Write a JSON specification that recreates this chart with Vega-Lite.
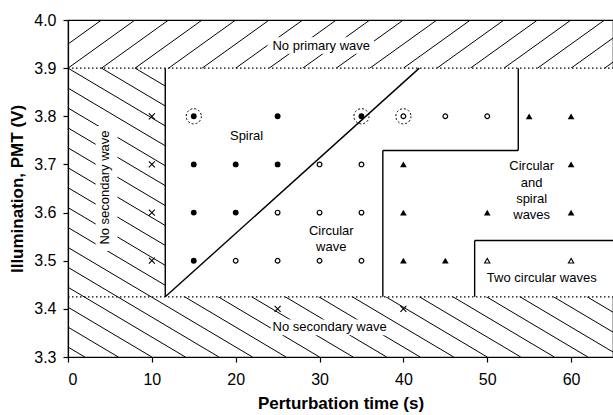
{
  "$schema": "https://vega.github.io/schema/vega-lite/v6.json",
  "width": 545,
  "height": 337,
  "autosize": {"type": "none"},
  "padding": {"left": 68, "top": 20, "right": 0, "bottom": 58},
  "config": {
    "font": "Liberation Sans",
    "view": {"stroke": "#000", "strokeWidth": 1.2},
    "axis": {"domainColor": "#000", "domainWidth": 1.2, "tickColor": "#000", "tickWidth": 1.2, "labelColor": "#000", "titleColor": "#000", "grid": false}
  },
  "datasets": {
    "diag": [
      {"x": 2, "y": 3.3, "x2": -56, "y2": 3.9},
      {"x": 6, "y": 3.3, "x2": -52, "y2": 3.9},
      {"x": 10, "y": 3.3, "x2": -48, "y2": 3.9},
      {"x": 14, "y": 3.3, "x2": -44, "y2": 3.9},
      {"x": 18, "y": 3.3, "x2": -40, "y2": 3.9},
      {"x": 22, "y": 3.3, "x2": -36, "y2": 3.9},
      {"x": 26, "y": 3.3, "x2": -32, "y2": 3.9},
      {"x": 30, "y": 3.3, "x2": -28, "y2": 3.9},
      {"x": 34, "y": 3.3, "x2": -24, "y2": 3.9},
      {"x": 38, "y": 3.3, "x2": -20, "y2": 3.9},
      {"x": 42, "y": 3.3, "x2": -16, "y2": 3.9},
      {"x": 46, "y": 3.3, "x2": -12, "y2": 3.9},
      {"x": 50, "y": 3.3, "x2": -8, "y2": 3.9},
      {"x": 54, "y": 3.3, "x2": -4, "y2": 3.9},
      {"x": 58, "y": 3.3, "x2": 0, "y2": 3.9},
      {"x": 62, "y": 3.3, "x2": 4, "y2": 3.9},
      {"x": 66, "y": 3.3, "x2": 8, "y2": 3.9},
      {"x": 70, "y": 3.3, "x2": 12, "y2": 3.9},
      {"x": 74, "y": 3.3, "x2": 16, "y2": 3.9},
      {"x": 78, "y": 3.3, "x2": 20, "y2": 3.9}
    ],
    "top": [
      {"x": -4, "y": 3.9, "x2": 4, "y2": 4.0},
      {"x": 0, "y": 3.9, "x2": 8, "y2": 4.0},
      {"x": 4, "y": 3.9, "x2": 12, "y2": 4.0},
      {"x": 8, "y": 3.9, "x2": 16, "y2": 4.0},
      {"x": 12, "y": 3.9, "x2": 20, "y2": 4.0},
      {"x": 16, "y": 3.9, "x2": 24, "y2": 4.0},
      {"x": 20, "y": 3.9, "x2": 28, "y2": 4.0},
      {"x": 24, "y": 3.9, "x2": 32, "y2": 4.0},
      {"x": 28, "y": 3.9, "x2": 36, "y2": 4.0},
      {"x": 32, "y": 3.9, "x2": 40, "y2": 4.0},
      {"x": 36, "y": 3.9, "x2": 44, "y2": 4.0},
      {"x": 40, "y": 3.9, "x2": 48, "y2": 4.0},
      {"x": 44, "y": 3.9, "x2": 52, "y2": 4.0},
      {"x": 48, "y": 3.9, "x2": 56, "y2": 4.0},
      {"x": 52, "y": 3.9, "x2": 60, "y2": 4.0},
      {"x": 56, "y": 3.9, "x2": 64, "y2": 4.0},
      {"x": 60, "y": 3.9, "x2": 68, "y2": 4.0},
      {"x": 64, "y": 3.9, "x2": 72, "y2": 4.0}
    ],
    "masks": [
      {"x": 11.6, "y": 3.425, "x2": 65, "y2": 3.9},
      {"x": 23.8, "y": 3.93, "x2": 36.5, "y2": 3.964},
      {"x": 24.2, "y": 3.345, "x2": 38.3, "y2": 3.378},
      {"x": 3.3, "y": 3.52, "x2": 5.9, "y2": 3.78}
    ],
    "segs": [
      {"x": 11.6, "y": 3.425, "x2": 11.6, "y2": 3.9},
      {"x": 11.6, "y": 3.425, "x2": 41.9, "y2": 3.9},
      {"x": 53.7, "y": 3.9, "x2": 53.7, "y2": 3.729},
      {"x": 53.7, "y": 3.729, "x2": 37.55, "y2": 3.729},
      {"x": 37.55, "y": 3.729, "x2": 37.55, "y2": 3.425},
      {"x": 48.5, "y": 3.425, "x2": 48.5, "y2": 3.542},
      {"x": 48.5, "y": 3.542, "x2": 65, "y2": 3.542}
    ],
    "dots": [
      {"x": 0, "y": 3.9, "x2": 65, "y2": 3.9},
      {"x": 0, "y": 3.425, "x2": 65, "y2": 3.425}
    ],
    "points": [
      {"x": 10, "y": 3.8, "t": "x"},
      {"x": 10, "y": 3.7, "t": "x"},
      {"x": 10, "y": 3.6, "t": "x"},
      {"x": 10, "y": 3.5, "t": "x"},
      {"x": 25, "y": 3.4, "t": "x"},
      {"x": 40, "y": 3.4, "t": "x"},
      {"x": 15, "y": 3.8, "t": "filled"},
      {"x": 25, "y": 3.8, "t": "filled"},
      {"x": 35, "y": 3.8, "t": "filled"},
      {"x": 15, "y": 3.7, "t": "filled"},
      {"x": 20, "y": 3.7, "t": "filled"},
      {"x": 25, "y": 3.7, "t": "filled"},
      {"x": 15, "y": 3.6, "t": "filled"},
      {"x": 20, "y": 3.6, "t": "filled"},
      {"x": 15, "y": 3.5, "t": "filled"},
      {"x": 40, "y": 3.8, "t": "open"},
      {"x": 45, "y": 3.8, "t": "open"},
      {"x": 50, "y": 3.8, "t": "open"},
      {"x": 30, "y": 3.7, "t": "open"},
      {"x": 35, "y": 3.7, "t": "open"},
      {"x": 25, "y": 3.6, "t": "open"},
      {"x": 30, "y": 3.6, "t": "open"},
      {"x": 35, "y": 3.6, "t": "open"},
      {"x": 20, "y": 3.5, "t": "open"},
      {"x": 25, "y": 3.5, "t": "open"},
      {"x": 30, "y": 3.5, "t": "open"},
      {"x": 35, "y": 3.5, "t": "open"},
      {"x": 55, "y": 3.8, "t": "tri"},
      {"x": 60, "y": 3.8, "t": "tri"},
      {"x": 40, "y": 3.7, "t": "tri"},
      {"x": 60, "y": 3.7, "t": "tri"},
      {"x": 40, "y": 3.6, "t": "tri"},
      {"x": 50, "y": 3.6, "t": "tri"},
      {"x": 60, "y": 3.6, "t": "tri"},
      {"x": 40, "y": 3.5, "t": "tri"},
      {"x": 45, "y": 3.5, "t": "tri"},
      {"x": 50, "y": 3.5, "t": "otri"},
      {"x": 60, "y": 3.5, "t": "otri"},
      {"x": 15, "y": 3.8, "t": "ring"},
      {"x": 35, "y": 3.8, "t": "ring"},
      {"x": 40, "y": 3.8, "t": "ring"}
    ],
    "labels": [
      {"x": 30.2, "y": 3.947, "label": "No primary wave"},
      {"x": 21.3, "y": 3.759, "label": "Spiral"},
      {"x": 31.4, "y": 3.562, "label": "Circular"},
      {"x": 31.4, "y": 3.528, "label": "wave"},
      {"x": 55.3, "y": 3.697, "label": "Circular"},
      {"x": 55.3, "y": 3.662, "label": "and"},
      {"x": 55.3, "y": 3.628, "label": "spiral"},
      {"x": 55.3, "y": 3.594, "label": "waves"},
      {"x": 56.5, "y": 3.464, "label": "Two circular waves"},
      {"x": 31.2, "y": 3.362, "label": "No secondary wave"}
    ],
    "vlabels": [
      {"x": 4.45, "y": 3.652, "label": "No secondary wave"}
    ]
  },
  "encoding": {
    "x": {
      "field": "x", "type": "quantitative",
      "scale": {"domain": [0, 65], "nice": false, "zero": false},
      "axis": {"values": [0, 10, 20, 30, 40, 50, 60], "title": "Perturbation time (s)", "titleFontSize": 17, "titleFontWeight": "bold", "labelFontSize": 16, "tickSize": 5, "labelPadding": 9, "titlePadding": 8}
    },
    "y": {
      "field": "y", "type": "quantitative",
      "scale": {"domain": [3.3, 4.0], "nice": false, "zero": false},
      "axis": {"values": [3.3, 3.4, 3.5, 3.6, 3.7, 3.8, 3.9, 4.0], "format": ".1f", "title": "Illumination, PMT  (V)", "titleFontSize": 17, "titleFontWeight": "bold", "labelFontSize": 16, "tickSize": 5, "labelPadding": 7, "titlePadding": 7}
    }
  },
  "layer": [
    {
      "data": {"name": "diag"},
      "mark": {"type": "rule", "clip": true, "color": "#000", "strokeWidth": 1},
      "encoding": {"x2": {"field": "x2"}, "y2": {"field": "y2"}}
    },
    {
      "data": {"name": "top"},
      "mark": {"type": "rule", "clip": true, "color": "#000", "strokeWidth": 1},
      "encoding": {"x2": {"field": "x2"}, "y2": {"field": "y2"}}
    },
    {
      "data": {"name": "masks"},
      "mark": {"type": "rect", "clip": true, "fill": "#fff", "stroke": null},
      "encoding": {"x2": {"field": "x2"}, "y2": {"field": "y2"}}
    },
    {
      "data": {"name": "segs"},
      "mark": {"type": "rule", "clip": true, "color": "#000", "strokeWidth": 1.4},
      "encoding": {"x2": {"field": "x2"}, "y2": {"field": "y2"}}
    },
    {
      "data": {"name": "dots"},
      "mark": {"type": "rule", "clip": true, "color": "#000", "strokeWidth": 1.2, "strokeDash": [1.5, 2.5]},
      "encoding": {"x2": {"field": "x2"}, "y2": {"field": "y2"}}
    },
    {
      "data": {"name": "points"},
      "transform": [{"filter": "datum.t === 'x'"}],
      "mark": {"type": "point", "shape": "M-1,-1L1,1M1,-1L-1,1", "size": 36, "stroke": "#000", "strokeWidth": 1.1, "filled": false, "opacity": 1}
    },
    {
      "data": {"name": "points"},
      "transform": [{"filter": "datum.t === 'filled'"}],
      "mark": {"type": "point", "shape": "circle", "size": 34, "fill": "#000", "filled": true, "opacity": 1, "strokeWidth": 0}
    },
    {
      "data": {"name": "points"},
      "transform": [{"filter": "datum.t === 'open'"}],
      "mark": {"type": "point", "shape": "circle", "size": 22, "stroke": "#000", "strokeWidth": 1.2, "filled": false, "fill": "#fff", "fillOpacity": 1, "opacity": 1}
    },
    {
      "data": {"name": "points"},
      "transform": [{"filter": "datum.t === 'tri'"}],
      "mark": {"type": "point", "shape": "triangle-up", "size": 45, "fill": "#000", "filled": true, "opacity": 1, "strokeWidth": 0}
    },
    {
      "data": {"name": "points"},
      "transform": [{"filter": "datum.t === 'otri'"}],
      "mark": {"type": "point", "shape": "triangle-up", "size": 28, "stroke": "#000", "strokeWidth": 1.1, "filled": false, "opacity": 1}
    },
    {
      "data": {"name": "points"},
      "transform": [{"filter": "datum.t === 'ring'"}],
      "mark": {"type": "point", "shape": "circle", "size": 230, "stroke": "#000", "strokeWidth": 1, "strokeDash": [2, 2], "filled": false, "opacity": 1}
    },
    {
      "data": {"name": "labels"},
      "mark": {"type": "text", "fontSize": 13, "color": "#000", "align": "center", "baseline": "middle"},
      "encoding": {"text": {"field": "label"}}
    },
    {
      "data": {"name": "vlabels"},
      "mark": {"type": "text", "fontSize": 13, "color": "#000", "align": "center", "baseline": "middle", "angle": 270},
      "encoding": {"text": {"field": "label"}}
    }
  ]
}
